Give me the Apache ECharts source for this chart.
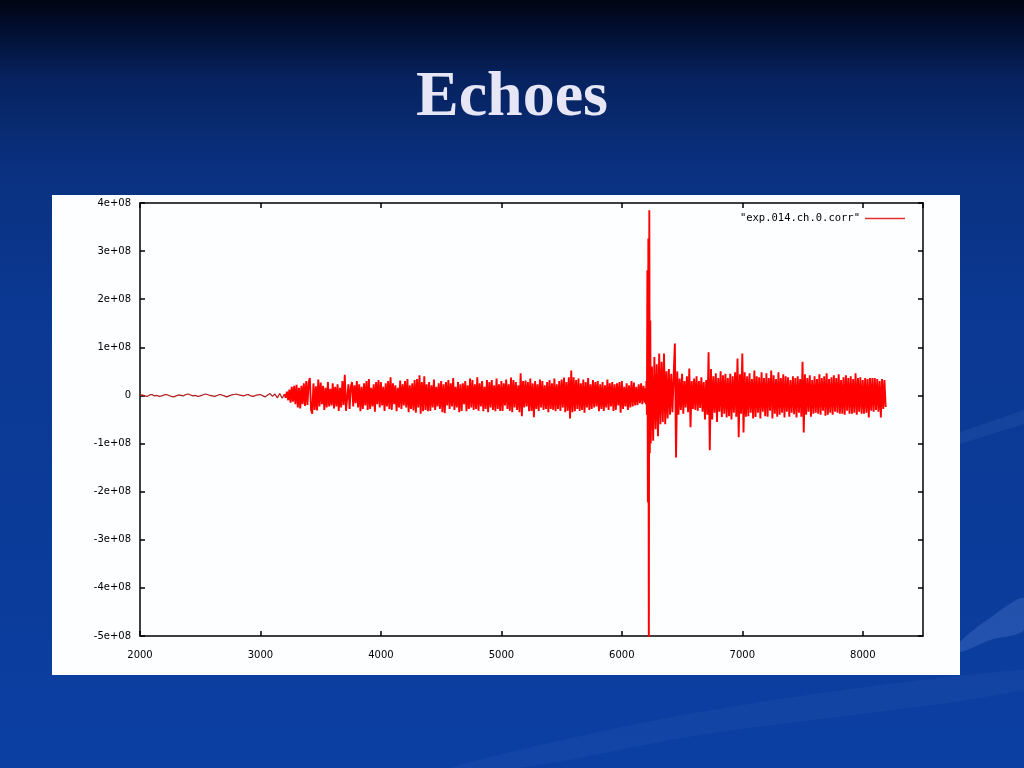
<!DOCTYPE html>
<html><head><meta charset="utf-8">
<script src="https://cdn.jsdelivr.net/npm/echarts@6/dist/echarts.min.js"></script>
<style>html,body{margin:0;padding:0;width:1024px;height:768px;overflow:hidden;background:#0a3a9a}#c{width:1024px;height:768px}</style>
</head><body><div id="c"></div><script>
// ---- data (values in units of 1e6) ----
const seriesName = '"exp.014.ch.0.corr"';
const slideTitle = 'Echoes';

// quiet pre-signal section: x = 2000 .. 3180, step 20
const quietStart = 2000, quietStep = 20;
const quietVals = [
  0, 1, -1, -2, 1, 2, -1, 0, -2, -1,
  1, 2, 0, -2, -3, -1, 1, 0, -1, 2,
  3, 1, -1, 0, -2, -1, 1, 3, 2, 0,
  -1, -2, 0, 2, 1, -1, -3, -1, 1, 2,
  3, 1, 0, -1, 1, 2, -1, -2, 0, 1,
  2, -1, -3, 1, 4, -2, 3, -5, 4, -6
];

// noise section: x = 3200 .. 6190, step 10
const noiseStart = 3200, noiseStep = 10;
const noiseVals = [
  3, -5, 8, -10, 12, -15, 18, -13, 20, -18,
  22, -25, 16, -27, 20, -18, 25, -22, 30, -20,
  27, 36, -30, -38, 25, -30, 19, -31, 33, -23,
  27, -18, 20, -30, 16, -25, 28, -23, 14, -21,
  25, -27, 18, -23, 23, -32, 16, -25, 30, -20,
  43, -32, -36, 23, -28, 18, 28, -23, 21, -16,
  30, -25, 23, -33, 18, -28, 25, -21, 30, -30,
  34, -28, 16, -23, 23, -34, 28, -18, 32, -25,
  28, -21, 18, -32, 25, -23, 30, -28, 38, -30,
  25, -18, 21, -33, 16, -25, 31, -28, 23, -21,
  30, -25, 34, -35, 21, -28, 25, -31, 32, -36,
  34, -25, 42, -38, 28, -33, 40, -30, 23, -33,
  28, -32, 21, -25, 33, -30, 18, -23, 25, -28,
  30, -35, 23, -37, 28, -21, 32, -28, 25, -23,
  36, -30, 18, -25, 28, -35, 23, -32, 25, -18,
  30, -33, 21, -28, 35, -25, 32, -30, 23, -28,
  38, -32, 25, -23, 30, -33, 18, -28, 32, -35,
  28, -25, 32, -30, 21, -33, 35, -28, 23, -32,
  30, -32, 25, -21, 33, -28, 23, -32, 37, -35,
  32, -25, 28, -30, 21, -35, 46, -43, 30, -25,
  31, -23, 28, -33, 35, -32, 25, -45, 30, -28,
  23, -32, 33, -25, 30, -30, 21, -28, 28, -35,
  32, -28, 25, -30, 35, -33, 23, -28, 30, -32,
  33, -25, 37, -35, 28, -32, 38, -48, 52, -35,
  38, -33, 32, -28, 35, -32, 25, -30, 33, -36,
  28, -25, 36, -30, 23, -28, 32, -25, 28, -23,
  30, -33, 23, -28, 28, -32, 21, -25, 33, -30,
  25, -23, 28, -32, 23, -30, 25, -21, 28, -36,
  30, -28, 18, -23, 25, -30, 21, -25, 30, -23,
  27, -21, 18, -20, 23, -16, 25, -18, 20, -15
];

// main echo spike: x = 6196 .. 6236, step 4
const spikeStart = 6196, spikeStep = 4;
const spikeVals = [15, -18, 30, -40, 260, -222, 326, -560, 385, -120, 156];

// echo tail: x = 6240 .. 8190, step 10
const echoStart = 6240, echoStep = 10;
const echoVals = [
  -100, 60, -94, 80, -70, 65, -85, 87, -60, 70,
  -55, 87, -60, 50, -48, 55, -40, 45, -35, 40,
  108, -129, 50, -40, 35, -30, 45, -38, 30, -25,
  40, -35, 56, -66, 30, -28, 35, -30, 40, -32,
  30, -26, 38, -34, 28, -50, 32, -40, 90, -114,
  55, -50, 40, -36, 46, -55, 36, -34, 50, -45,
  42, -38, 45, -46, 36, -43, 45, -50, 40, -36,
  48, -44, 77, -87, 44, -38, 87, -77, 48, -44,
  40, -43, 46, -36, 34, -48, 52, -45, 40, -36,
  38, -48, 48, -34, 36, -43, 46, -44, 36, -32,
  52, -48, 42, -38, 34, -44, 48, -40, 36, -36,
  44, -46, 40, -34, 38, -44, 32, -36, 40, -39,
  36, -46, 40, -36, 34, -44, 70, -77, 44, -40,
  36, -34, 42, -44, 32, -38, 40, -36, 34, -38,
  44, -40, 36, -32, 40, -42, 46, -40, 34, -36,
  38, -40, 42, -34, 36, -36, 44, -38, 32, -38,
  38, -40, 42, -32, 36, -38, 40, -38, 34, -36,
  46, -40, 36, -34, 38, -38, 32, -38, 36, -36,
  34, -46, 36, -32, 36, -34, 36, -30, 34, -34,
  30, -46, 34, -28, 32, -24
];

const xMin = 2000, xMax = 8500, xInterval = 1000;
const yMin = -5e8, yMax = 4e8, yInterval = 1e8;

function seg(start, step, vals) { return vals.map((v, i) => [start + i * step, v * 1e6]); }
const quietData = seg(quietStart, quietStep, quietVals).concat(seg(noiseStart, noiseStep, noiseVals.slice(0, 1)));
const loudData = [].concat(
  seg(noiseStart, noiseStep, noiseVals),
  seg(spikeStart, spikeStep, spikeVals),
  seg(echoStart, echoStep, echoVals)
);

const chart = echarts.init(document.getElementById('c'), null, {renderer: 'canvas', width: 1024, height: 768});
const axisCol = '#000';
const lbl = {color: '#000', fontSize: 10, fontFamily: 'DejaVu Sans'};
function yFmt(v) { return v === 0 ? '0' : (Math.round(v / 1e8)) + 'e+08'; }

chart.setOption({
  animation: false,
  backgroundColor: {
    type: 'linear', x: 0, y: 0, x2: 0, y2: 1,
    colorStops: [
      {offset: 0, color: '#000512'},
      {offset: 0.03, color: '#020c2a'},
      {offset: 0.1, color: '#06225e'},
      {offset: 0.22, color: '#0a3180'},
      {offset: 0.4, color: '#0b3892'},
      {offset: 1, color: '#0b3fa2'}
    ]
  },
  graphic: [
    {type: 'polygon', z: 0, silent: true,
      shape: {points: [[960, 642], [990, 618], [1024, 598], [1024, 630], [990, 640], [960, 652]], smooth: 0.3},
      style: {fill: 'rgba(120,160,230,0.22)'}},
    {type: 'polygon', z: 0, silent: true,
      shape: {points: [[960, 432], [1024, 410], [1024, 424], [960, 444]]},
      style: {fill: 'rgba(120,160,230,0.10)'}},
    {type: 'polygon', z: 0, silent: true,
      shape: {points: [[450, 768], [700, 712], [1024, 670], [1024, 690], [700, 735], [520, 768]], smooth: 0.3},
      style: {fill: 'rgba(120,160,230,0.07)'}},
    {type: 'rect', z: 0, silent: true,
      shape: {x: 52, y: 195, width: 908, height: 480},
      style: {fill: '#fdfeff'}},
    {type: 'text', z: 1, silent: true, left: 'center', top: 66,
      style: {text: slideTitle, fill: '#e6e6f6', font: 'bold 64px "Liberation Serif", "Times New Roman", serif',
        shadowColor: 'rgba(0,0,0,0.85)', shadowOffsetX: 3, shadowOffsetY: 3, shadowBlur: 2}}
  ],
  grid: {left: 140, right: 101, top: 203, bottom: 132, containLabel: false},
  legend: {
    data: [seriesName], right: 114, top: 208, align: 'right', icon: 'rect', itemWidth: 40, itemHeight: 1.5,
    itemStyle: {color: '#e03030'},
    textStyle: {color: '#000', fontSize: 10.5, fontFamily: 'DejaVu Sans Mono'}
  },
  xAxis: [
    {type: 'value', min: xMin, max: xMax, interval: xInterval, position: 'bottom',
      axisLine: {show: true, onZero: false, lineStyle: {color: axisCol, width: 1.5}},
      axisTick: {show: true, inside: true, length: 5, lineStyle: {color: axisCol, width: 1.5}},
      axisLabel: Object.assign({margin: 14, showMaxLabel: false, formatter: v => (v % 1000 === 0 ? String(v) : '')}, lbl),
      splitLine: {show: false}},
    {type: 'value', min: xMin, max: xMax, interval: xInterval, position: 'top',
      axisLine: {show: true, onZero: false, lineStyle: {color: axisCol, width: 1.5}},
      axisTick: {show: true, inside: true, length: 5, lineStyle: {color: axisCol, width: 1.5}},
      axisLabel: {show: false}, splitLine: {show: false}}
  ],
  yAxis: [
    {type: 'value', min: yMin, max: yMax, interval: yInterval, position: 'left',
      axisLine: {show: true, onZero: false, lineStyle: {color: axisCol, width: 1.5}},
      axisTick: {show: true, inside: true, length: 5, lineStyle: {color: axisCol, width: 1.5}},
      axisLabel: Object.assign({margin: 9, formatter: yFmt}, lbl),
      splitLine: {show: false}},
    {type: 'value', min: yMin, max: yMax, interval: yInterval, position: 'right',
      axisLine: {show: true, onZero: false, lineStyle: {color: axisCol, width: 1.5}},
      axisTick: {show: true, inside: true, length: 5, lineStyle: {color: axisCol, width: 1.5}},
      axisLabel: {show: false}, splitLine: {show: false}}
  ],
  series: [
    {name: seriesName, type: 'line', xAxisIndex: 0, yAxisIndex: 0,
      data: quietData, showSymbol: false, symbol: 'none', clip: true,
      lineStyle: {color: '#b01818', width: 1.2}, itemStyle: {color: '#e03030'}},
    {name: seriesName, type: 'line', xAxisIndex: 0, yAxisIndex: 0,
      data: loudData, showSymbol: false, symbol: 'none', clip: true,
      lineStyle: {color: '#ff0000', width: 1.9}, itemStyle: {color: '#e03030'}}
  ]
});
</script></body></html>
